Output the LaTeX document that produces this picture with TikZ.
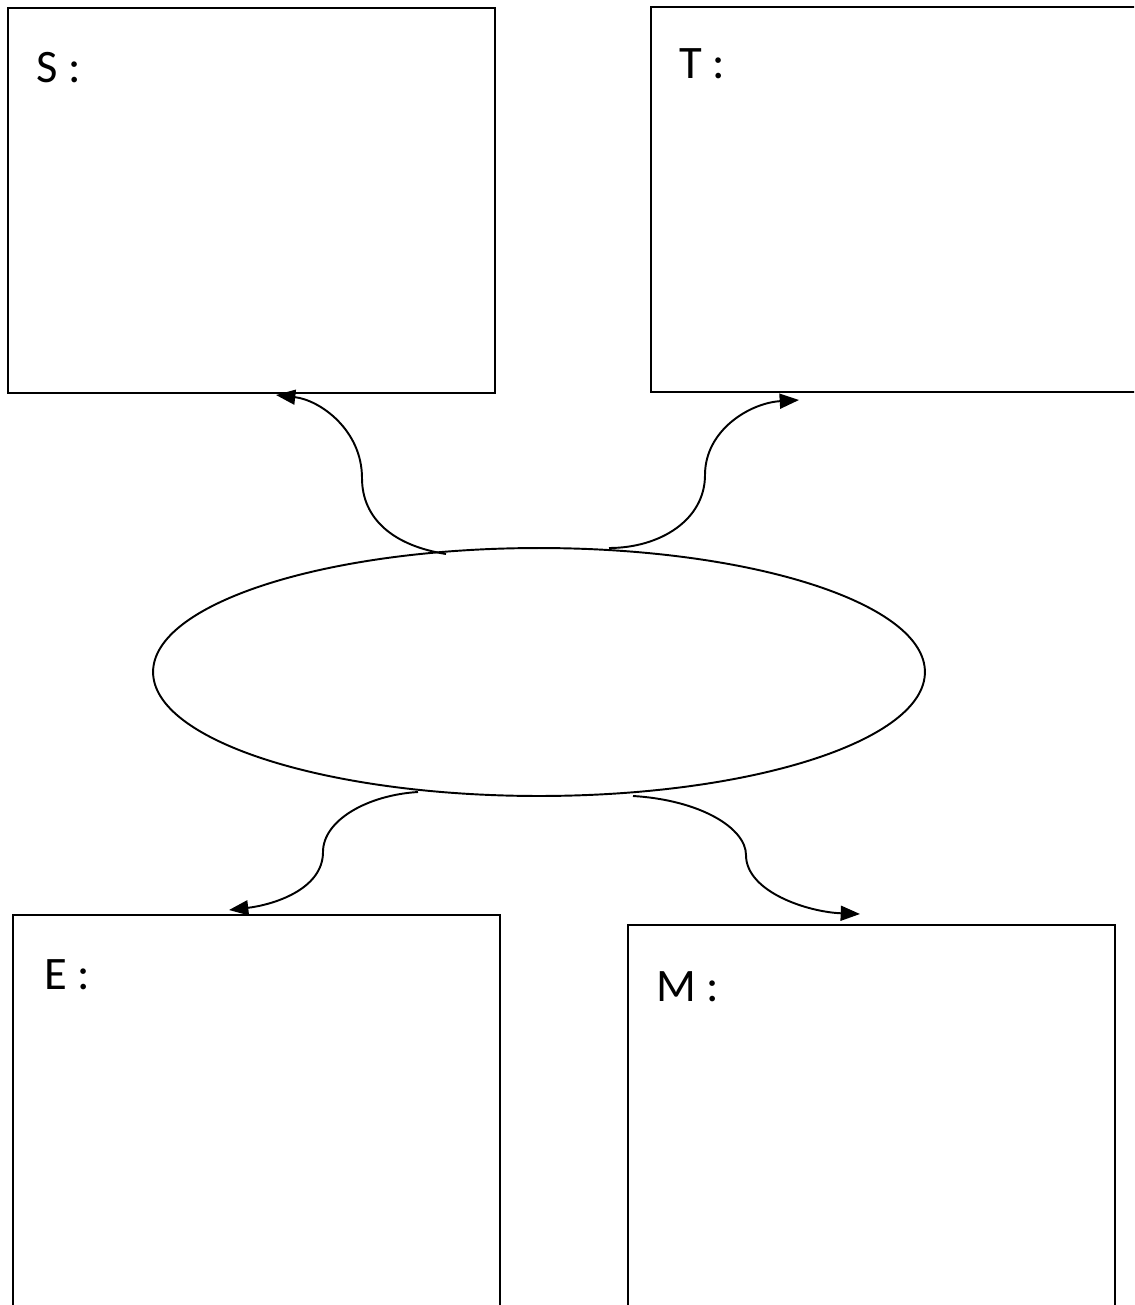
\documentclass[tikz,border=0pt]{standalone}
\usepackage{fontspec}
\setmainfont{Carlito}
\usetikzlibrary{arrows.meta,shapes.geometric}
\begin{document}
\begin{tikzpicture}[x=0.02cm,y=-0.02cm,
  box/.style={draw,line width=1.3pt,rectangle,inner sep=0pt,minimum width=9.74cm,minimum height=7.7cm},
  lbl/.style={anchor=base west,inner sep=0pt,font=\fontsize{26.5}{30}\selectfont},
  conn/.style={line width=1.1pt,-{Triangle[length=11pt,width=8.5pt]}}]
\useasboundingbox (0,0) rectangle (1134,1305);
\clip (0,0) rectangle (1134,1305);
\node[box] (S) at (251.5,200.5) {};
\node[box,minimum width=9.88cm] (T) at (898,199.5) {};
\node[box,minimum height=8.1cm] (E) at (256.5,1117.5) {};
\node[box,minimum height=8.1cm] (M) at (871.5,1127.5) {};
\node[lbl] (Sl) at (36,82) {S :};
\node[lbl] (Tl) at (679,78) {T :};
\node[lbl] (El) at (44,989) {E :};
\node[lbl] (Ml) at (656,1001) {M :};
\node[draw,line width=1.1pt,ellipse,inner sep=0pt,minimum width=15.44cm,minimum height=4.96cm] (C) at (539,672) {};
\coordinate (c1s) at (446,554);
\coordinate (c1e) at (276,395);
\coordinate (c2s) at (609,548);
\coordinate (c2e) at (799,400);
\coordinate (c3s) at (418,792);
\coordinate (c3e) at (229,910);
\coordinate (c4s) at (633,796);
\coordinate (c4e) at (860,914);
\draw[conn] (c1s) .. controls (395,546) and (362,520) .. (362,478) .. controls (362,430) and (320,400) .. (c1e);
\draw[conn] (c2s) .. controls (660,548) and (705,520) .. (705,475) .. controls (705,430) and (750,403) .. (c2e);
\draw[conn] (c3s) .. controls (368,795) and (323,820) .. (323,852) .. controls (323,890) and (272,905) .. (c3e);
\draw[conn] (c4s) .. controls (700,800) and (746,828) .. (746,855) .. controls (746,892) and (808,912) .. (c4e);
\end{tikzpicture}
\end{document}
